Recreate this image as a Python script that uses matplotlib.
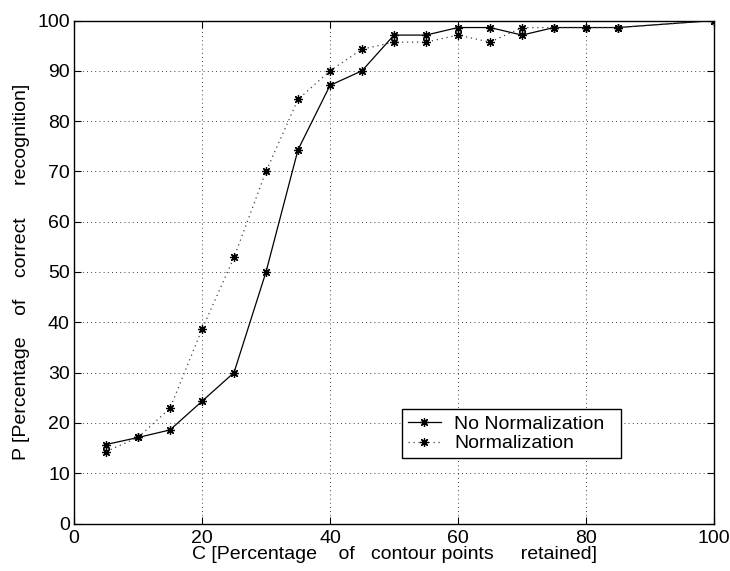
import matplotlib
matplotlib.use("Agg")
import matplotlib.pyplot as plt

plt.rcParams['font.family'] = ['Liberation Sans', 'DejaVu Sans']

x_vals = [5, 10, 15, 20, 25, 30, 35, 40, 45, 50, 55, 60, 65, 70, 75, 80, 85, 100]
no_norm = [15.7, 17.1, 18.6, 24.3, 30.0, 50.0, 74.3, 87.1, 90.0, 97.1, 97.1, 98.6, 98.6, 97.1, 98.6, 98.6, 98.6, 100.0]
norm = [14.3, 17.1, 22.9, 38.6, 52.9, 70.0, 84.3, 90.0, 94.3, 95.7, 95.7, 97.1, 95.7, 98.6, 98.6, 98.6, 98.6, 100.0]
xticks = [0, 20, 40, 60, 80, 100]
yticks = [0, 10, 20, 30, 40, 50, 60, 70, 80, 90, 100]

FS = 14
asterisk = (8, 2, 0)

fig = plt.figure(figsize=(7.30, 5.71), dpi=100)
ax = fig.add_axes([74/730, 47.5/571, 640/730, 503/571])

ax.plot(x_vals, no_norm, '-', color='black', linewidth=0.9, marker=asterisk,
        markersize=6.2, markeredgewidth=0.9, label='No Normalization\u00a0\u00a0')
ax.plot(x_vals, norm, linestyle=(0, (1, 3)), color='0.25', linewidth=0.9,
        marker=asterisk, markersize=6.2, markeredgewidth=0.9,
        markeredgecolor='black', label='Normalization')

ax.set_xlim(0, 100)
ax.set_ylim(0, 100)
ax.set_xticks(xticks)
ax.set_yticks(yticks)
ax.grid(True, linestyle=(0, (1, 4)), color='black', linewidth=0.6)
ax.tick_params(direction='in', top=True, right=True, length=5, width=0.8,
               labelsize=FS)
ax.tick_params(axis='x', pad=4.5)
ax.tick_params(axis='y', pad=3)
for s in ax.spines.values():
    s.set_linewidth(1.0)

ax.set_xlabel('C [Percentage    of   contour points     retained]',
              fontsize=FS, labelpad=-0.5)
ax.set_ylabel('P [Percentage    of    correct      recognition]',
              fontsize=FS, labelpad=5)

leg = ax.legend(loc='upper left', bbox_to_anchor=(0.512, 0.227), fontsize=FS,
                frameon=True, fancybox=False, edgecolor='black', framealpha=1,
                handlelength=1.7, handletextpad=0.7, borderpad=0.3,
                labelspacing=0.1, borderaxespad=0)
leg.get_frame().set_linewidth(1.0)

fig.savefig('out.png', dpi=100)
